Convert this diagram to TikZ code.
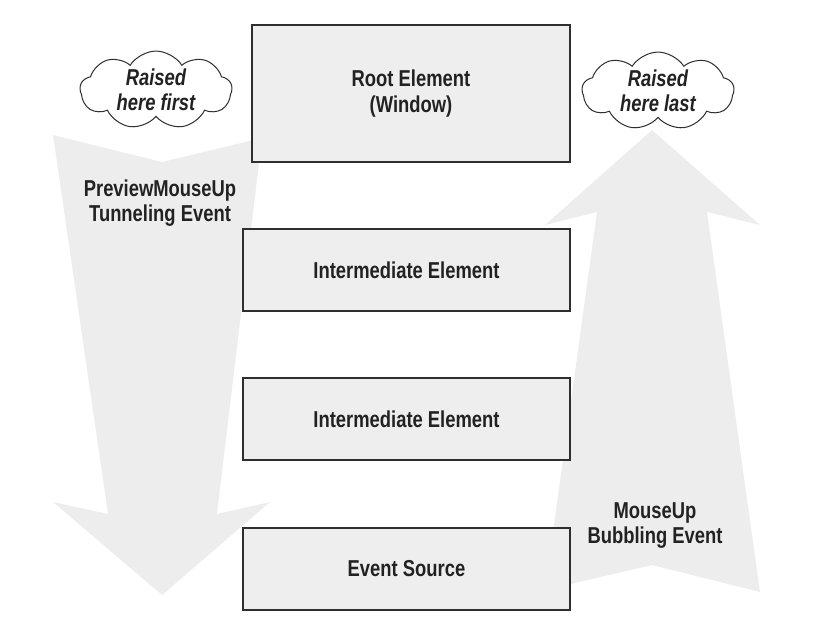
\documentclass[tikz,border=0pt]{standalone}
\usepackage{fontspec}
\setmainfont{Liberation Sans}[FakeStretch=0.8]
\usetikzlibrary{shapes.symbols}

\definecolor{boxgrey}{HTML}{EEEEEE}
\definecolor{flowgrey}{HTML}{EDEDED}
\definecolor{edgegrey}{HTML}{2E2E2E}
\definecolor{inkgrey}{HTML}{222222}

\begin{document}
\begin{tikzpicture}[
    x=1pt, y=-1pt,
    every node/.style={font=\fontsize{23}{25.5}\selectfont\bfseries, text=inkgrey, align=center},
    element/.style={draw=edgegrey, line width=1.4pt, fill=boxgrey, minimum width=327pt, minimum height=82pt, inner sep=0pt},
    bubble/.style={cloud, cloud puffs=9, cloud puff arc=115, aspect=2, draw=edgegrey, line width=1pt, fill=white,
        minimum width=152pt, minimum height=76pt, inner sep=0pt, font=\fontsize{23}{25}\selectfont\bfseries\itshape},
    flow/.style={fill=flowgrey, draw=none}
]
    \useasboundingbox (0,0) rectangle (829,643);

    % Tunneling arrow (down)
    \fill[flow] (53,135) -- (162,162) -- (262,138) -- (217,514) -- (270,502)
        -- (162,595) -- (53,502) -- (108,514) -- cycle;

    % Bubbling arrow (up)
    \fill[flow] (545,590) -- (652,565) -- (760,592) -- (707,212) -- (760,225)
        -- (652,130) -- (545,225) -- (597,212) -- cycle;

    % Element tree
    \node[element, minimum width=318pt, minimum height=137pt] (ROOT) at (411,93.5) {Root Element\\(Window)};
    \node[element] (MID1) at (406.5,270) {Intermediate Element};
    \node[element] (MID2) at (406.5,419) {Intermediate Element};
    \node[element] (SOURCE) at (406.5,569) {Event Source};

    % Clouds
    \node[bubble] (FIRST) at (156,90) {Raised\\here first};
    \node[bubble] (LAST) at (658,91) {Raised\\here last};

    % Event labels
    \node (TUNNEL) at (160,203) {PreviewMouseUp\\Tunneling Event};
    \node (BUBBLE) at (655,525.5) {MouseUp\\Bubbling Event};

\end{tikzpicture}
\end{document}
